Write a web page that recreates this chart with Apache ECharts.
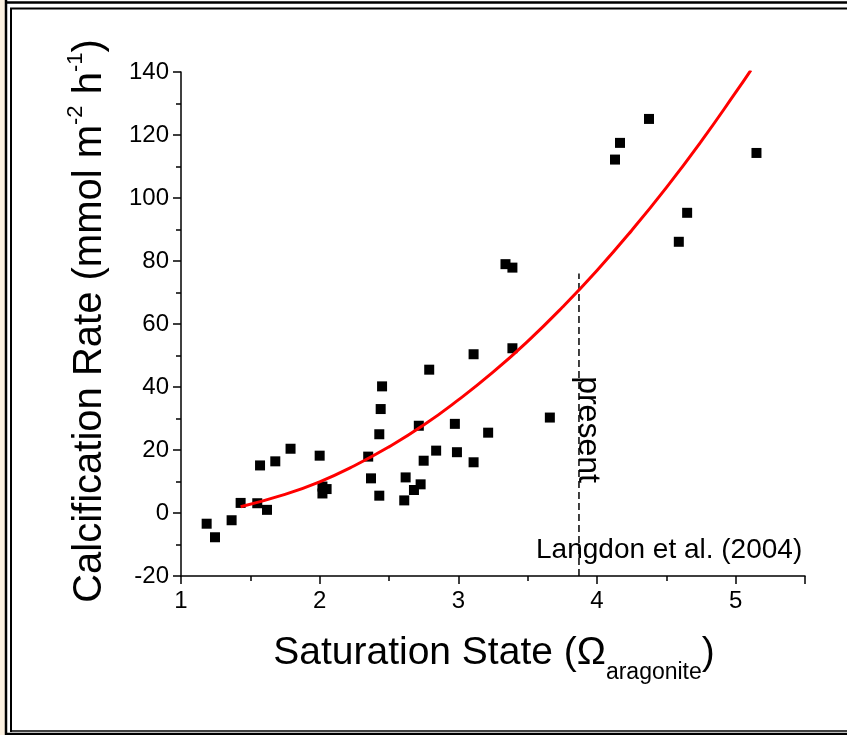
<!DOCTYPE html>
<html><head><meta charset="utf-8">
<script src="https://cdn.jsdelivr.net/npm/echarts@6/dist/echarts.min.js"></script>
<style>html,body{margin:0;padding:0;background:#fff}#c{width:847px;height:735px}</style>
</head><body><div id="c"></div>
<script>
// Measured points (Saturation state Ω_aragonite, calcification rate)
const omega = [1.185,1.245,1.365,1.43,1.55,1.57,1.62,1.68,1.79,2.0,2.02,2.02,2.05,2.35,2.37,2.43,2.43,2.44,2.45,2.61,2.62,2.68,2.715,2.728,2.75,2.79,2.84,2.975,2.99,3.11,3.11,3.215,3.34,3.39,3.39,3.66,4.13,4.166,4.375,4.59,4.65,5.15];
const rate  = [-3.4,-7.7,-2.3,3.2,3.1,15.1,1.0,16.4,20.4,18.2,8.4,6.2,7.6,17.9,11.0,5.5,25.0,33.0,40.2,4.0,11.3,7.3,27.7,9.1,16.6,45.5,19.8,28.3,19.3,16.1,50.4,25.5,79.0,52.3,77.9,30.3,112.2,117.5,125.1,86.1,95.3,114.3];
// Red fitted curve
const fitOmega = [1.43,1.75,2.0,2.25,2.5,2.75,3.0,3.25,3.5,3.75,4.0,4.25,4.5,4.75,5.0,5.11];
const fitRate  = [2.0,5.9,9.9,15.0,21.0,27.9,35.9,44.7,54.5,65.3,77.0,89.7,103.3,117.9,133.5,140.6];
// "present" marker
const presentOmega = 3.87;
const presentRange = [-20, 76];
// Axes
const xTicks = [1,2,3,4,5];
const xMax = 5.5;
const yTicks = [-20,0,20,40,60,80,100,120,140];

const FONT = '"Liberation Sans", Arial, Helvetica, sans-serif';
const chart = echarts.init(document.getElementById('c'), null, {renderer:'canvas'});

function axisBase(){
  return {
    type:'value',
    axisLine:{show:true,onZero:false,lineStyle:{color:'#000',width:1.5}},
    axisTick:{show:true,inside:false,length:8,lineStyle:{color:'#000',width:1.5}},
    minorTick:{show:true,splitNumber:2,length:5,lineStyle:{color:'#000',width:1.5}},
    splitLine:{show:false},
    axisLabel:{color:'#000',fontSize:24,fontFamily:FONT}
  };
}
const xAxis = Object.assign(axisBase(), {
  min:xTicks[0], max:xMax, interval:xTicks[1]-xTicks[0]
});
xAxis.axisLabel.margin = 13;
xAxis.axisLabel.formatter = v => xTicks.indexOf(v) >= 0 ? String(v) : '';
const yAxis = Object.assign(axisBase(), {
  min:yTicks[0], max:yTicks[yTicks.length-1], interval:yTicks[1]-yTicks[0]
});
yAxis.axisLabel.margin = 12;

const pts = omega.map((x,i)=>[x, rate[i]]);
const fit = fitOmega.map((x,i)=>[x, fitRate[i]]);

chart.setOption({
  animation:false,
  backgroundColor:'#fff',
  grid:{left:181,right:42,top:72,bottom:159,containLabel:false,outerBoundsMode:'none'},
  xAxis, yAxis,
  series:[
    {type:'line',data:[[presentOmega,presentRange[0]],[presentOmega,presentRange[1]]],
     showSymbol:false,symbol:'none',lineStyle:{color:'#000',width:1.5,type:[7,4]},z:1},
    {type:'scatter',data:pts,symbol:'rect',symbolSize:10,itemStyle:{color:'#000',opacity:1},z:3},
    {type:'line',data:fit,smooth:true,showSymbol:false,symbol:'none',
     lineStyle:{color:'#ff0000',width:3},z:4}
  ]
});

const pPres = chart.convertToPixel({gridIndex:0}, [presentOmega, 26.5]);
const pLang = chart.convertToPixel({gridIndex:0}, [5.48, -11.7]);

const lineStyle2 = (w)=>({stroke:'#000',lineWidth:w});
chart.setOption({
  graphic:[
    {type:'rect',shape:{x:0,y:0,width:5,height:735},style:{fill:'#fcf1e0'},silent:true},
    // outer frame
    {type:'line',shape:{x1:6,y1:0,x2:6,y2:735},style:lineStyle2(2.5),silent:true},
    {type:'line',shape:{x1:5,y1:2.5,x2:847,y2:2.5},style:lineStyle2(2.5),silent:true},
    {type:'line',shape:{x1:5,y1:734,x2:847,y2:734},style:lineStyle2(2.5),silent:true},
    // inner frame
    {type:'line',shape:{x1:11,y1:8,x2:11,y2:732},style:lineStyle2(2),silent:true},
    {type:'line',shape:{x1:10,y1:8.5,x2:847,y2:8.5},style:lineStyle2(2),silent:true},
    {type:'line',shape:{x1:10,y1:731,x2:847,y2:731},style:lineStyle2(1.5),silent:true},
    {type:'text',x:494,y:653,silent:true,style:{
      text:'{a|Saturation State (Ω}{s|aragonite}{a|)}',
      align:'center',verticalAlign:'middle',fill:'#000',
      rich:{a:{fontSize:39,fontFamily:FONT,fill:'#000'},s:{fontSize:23,fontFamily:FONT,fill:'#000',padding:[40,0,0,0]}}
    }},
    {type:'text',x:90,y:321,rotation:Math.PI/2,silent:true,style:{
      text:'{a|Calcification Rate (mmol m}{s|-2}{a| h}{s|-1}{a|)}',
      align:'center',verticalAlign:'middle',fill:'#000',
      rich:{a:{fontSize:40,fontFamily:FONT,fill:'#000'},s:{fontSize:22,fontFamily:FONT,fill:'#000',padding:[0,0,28,0]}}
    }},
    {type:'text',x:pPres[0]+9,y:pPres[1],rotation:-Math.PI/2,silent:true,style:{
      text:'present',align:'center',verticalAlign:'middle',fill:'#000',fontSize:32,fontFamily:FONT
    }},
    {type:'text',x:pLang[0],y:pLang[1],silent:true,style:{
      text:'Langdon et al. (2004)',align:'right',verticalAlign:'middle',fill:'#000',fontSize:28,fontFamily:FONT
    }}
  ]
});
</script></body></html>
